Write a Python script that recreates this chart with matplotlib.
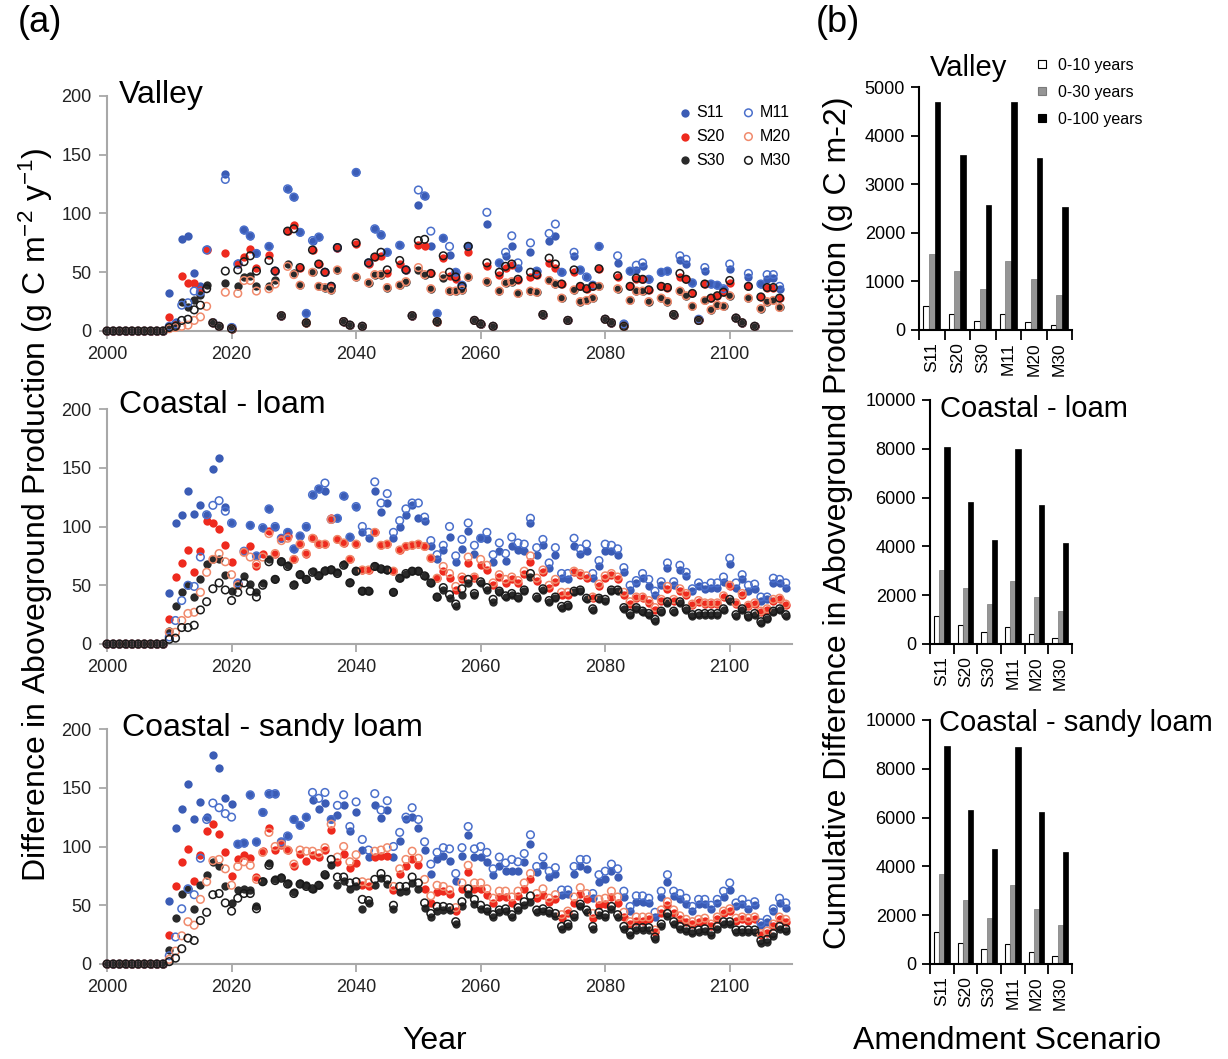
import numpy as np
import matplotlib
matplotlib.use("Agg")
import matplotlib.pyplot as plt
from matplotlib.lines import Line2D

plt.rcParams['font.family'] = ['Liberation Sans', 'DejaVu Sans']
plt.rcParams['mathtext.default'] = 'regular'

# ---------------- data: panel (a) ----------------
years_valley = list(range(2000, 2109))
years_coastal = list(range(2000, 2110))
pre_zero = [0, 0, 0, 0, 0, 0, 0, 0, 0, 0]   # 2000-2009

valley_S11 = pre_zero + [
    32, 8, 78, 81, 49, 38, 70, 8, 4, 134,
    3, 58, 86, 81, 66, None, 72, 51, 13, 121,
    114, 84, 15, 77, 80, 50, 38, 71, 8, 5,
    135, 4, 58, 87, 82, 67, None, 73, 52, 13,
    107, 115, 72, 15, 79, 65, 50, 39, 72, 9,
    6, 91, 4, 58, 64, 72, 54, None, 67, 51,
    14, 77, 81, 50, 9, 64, 52, 46, 39, 72,
    10, 7, 58, 6, 51, 52, 55, 44, None, 50,
    51, 14, 60, 57, 41, 10, 51, 40, 39, 36,
    53, 11, 7, 46, 4, 40, 44, 45, 36]
valley_S20 = pre_zero + [
    12, 6, 47, 41, 41, 35, 69, 7, 4, 66,
    2, 57, 63, 70, 54, None, 65, 51, 13, 85,
    90, 54, 7, 69, 57, 50, 38, 71, 8, 5,
    74, 4, 57, 63, 64, 49, None, 57, 52, 13,
    73, 72, 49, 8, 62, 47, 44, 36, 67, 9,
    6, 55, 4, 48, 54, 56, 43, None, 46, 48,
    14, 58, 54, 40, 9, 50, 38, 36, 38, 53,
    10, 7, 46, 4, 38, 44, 44, 35, None, 38,
    37, 14, 46, 44, 32, 9, 40, 28, 30, 33,
    41, 11, 7, 38, 4, 29, 37, 37, 28]
valley_S30 = pre_zero + [
    3, 5, 25, 20, 26, 31, 39, 7, 4, 41,
    2, 38, 46, 47, 38, None, 38, 43, 13, 57,
    49, 39, 7, 50, 38, 37, 35, 52, 8, 5,
    46, 4, 41, 48, 48, 37, None, 39, 42, 13,
    52, 48, 36, 8, 45, 34, 34, 35, 46, 9,
    6, 42, 4, 34, 41, 42, 32, None, 34, 33,
    14, 43, 40, 28, 9, 35, 25, 26, 28, 38,
    10, 7, 36, 4, 26, 34, 34, 25, None, 28,
    25, 14, 34, 30, 21, 9, 26, 18, 22, 21,
    30, 11, 7, 28, 4, 19, 25, 26, 20]
valley_M11 = pre_zero + [
    4, 6, 22, 24, 34, 33, 69, 7, 4, 129,
    3, 57, 86, 81, 66, None, 72, 51, 13, 121,
    114, 84, 15, 77, 80, 50, 38, 71, 8, 5,
    135, 4, 58, 87, 82, 67, None, 73, 52, 13,
    120, 115, 85, 15, 79, 72, 50, 39, 72, 9,
    6, 101, 4, 58, 67, 81, 58, None, 75, 51,
    14, 83, 91, 50, 9, 67, 52, 46, 39, 72,
    10, 7, 64, 6, 51, 56, 58, 44, None, 50,
    51, 14, 64, 61, 41, 10, 54, 40, 39, 36,
    57, 11, 7, 49, 4, 40, 48, 48, 38]
valley_M20 = pre_zero + [
    2, 3, 4, 5, 9, 12, 21, 7, 4, 33,
    2, 32, 43, 43, 34, None, 36, 40, 13, 55,
    48, 39, 7, 50, 38, 37, 35, 52, 8, 5,
    46, 4, 41, 48, 48, 37, None, 39, 42, 13,
    54, 48, 36, 8, 47, 34, 34, 35, 46, 9,
    6, 42, 4, 34, 41, 42, 32, None, 34, 33,
    14, 43, 40, 28, 9, 35, 25, 26, 28, 38,
    10, 7, 36, 4, 26, 34, 34, 25, None, 28,
    25, 14, 34, 30, 21, 9, 26, 18, 22, 21,
    30, 11, 7, 28, 4, 19, 25, 26, 20]
valley_M30 = pre_zero + [
    3, 4, 9, 10, 18, 22, 36, 7, 4, 51,
    2, 52, 59, 64, 51, None, 60, 51, 13, 85,
    87, 54, 7, 69, 57, 50, 38, 71, 8, 5,
    75, 4, 58, 63, 67, 52, None, 60, 52, 13,
    77, 78, 49, 8, 64, 50, 46, 38, 72, 9,
    6, 58, 4, 50, 55, 57, 44, None, 50, 48,
    14, 62, 57, 40, 9, 52, 38, 36, 38, 53,
    10, 7, 47, 4, 38, 45, 44, 35, None, 38,
    37, 14, 49, 44, 32, 9, 40, 28, 30, 33,
    43, 11, 7, 38, 4, 29, 37, 37, 28]

loam_S11 = pre_zero + [
    43, 103, 110, 130, 111, 118, 110, 149, 158, 117,
    103, 52, 79, 101, 75, 99, 115, 100, 90, 95,
    81, 92, 100, 127, 132, 130, 106, 107, 126, 91,
    117, 95, 90, 130, 112, 120, 90, 100, 110, 118,
    107, 105, 83, 72, 80, 91, 70, 81, 96, 77,
    90, 89, 70, 79, 71, 83, 80, 79, 103, 76,
    84, 65, 76, 56, 55, 83, 77, 79, 56, 66,
    79, 79, 76, 61, 46, 52, 56, 49, 42, 50,
    65, 50, 63, 58, 45, 49, 47, 48, 48, 53,
    68, 48, 55, 45, 47, 37, 38, 52, 52, 48]
loam_S20 = pre_zero + [
    21, 57, 69, 80, 61, 79, 105, 103, 98, 84,
    70, 51, 79, 83, 66, 77, 96, 77, 90, 92,
    72, 85, 77, 90, 85, 85, 107, 89, 86, 72,
    85, 63, 63, 95, 84, 85, 62, 80, 83, 84,
    85, 83, 73, 56, 62, 56, 46, 55, 69, 56,
    67, 63, 50, 57, 52, 55, 52, 60, 70, 54,
    61, 48, 53, 42, 42, 61, 59, 56, 39, 49,
    56, 59, 55, 42, 34, 39, 39, 35, 29, 37,
    47, 37, 45, 42, 33, 36, 34, 34, 34, 40,
    49, 34, 42, 32, 34, 27, 29, 37, 38, 33]
loam_S30 = pre_zero + [
    11, 32, 44, 50, 40, 55, 68, 72, 72, 59,
    45, 50, 58, 51, 44, 52, 72, 55, 71, 67,
    51, 60, 55, 62, 59, 63, 64, 61, 68, 53,
    62, 45, 45, 66, 64, 63, 44, 56, 60, 62,
    62, 58, 52, 40, 46, 39, 32, 42, 52, 42,
    52, 46, 36, 44, 40, 42, 39, 45, 57, 39,
    46, 36, 39, 31, 32, 44, 45, 38, 29, 38,
    37, 45, 45, 30, 25, 30, 27, 25, 20, 27,
    35, 27, 35, 29, 24, 25, 25, 25, 25, 29,
    37, 24, 29, 23, 25, 18, 21, 27, 29, 24]
loam_M11 = pre_zero + [
    6, 20, 37, 50, 49, 74, 110, 118, 122, 113,
    103, 52, 79, 101, 75, 99, 115, 100, 90, 95,
    81, 92, 100, 127, 132, 137, 106, 107, 126, 91,
    117, 100, 95, 138, 120, 128, 95, 105, 115, 120,
    120, 108, 88, 76, 84, 100, 75, 89, 103, 84,
    90, 95, 76, 86, 77, 91, 86, 85, 107, 82,
    89, 69, 82, 60, 60, 90, 81, 85, 60, 71,
    85, 84, 81, 65, 50, 54, 60, 55, 45, 53,
    69, 53, 67, 61, 47, 52, 49, 52, 52, 57,
    73, 52, 59, 50, 51, 40, 40, 56, 55, 52]
loam_M20 = pre_zero + [
    10, 10, 20, 26, 27, 44, 61, 72, 77, 70,
    59, 50, 78, 74, 68, 74, 94, 77, 88, 90,
    72, 85, 77, 90, 85, 85, 106, 89, 86, 72,
    85, 63, 63, 95, 84, 85, 62, 80, 83, 84,
    85, 83, 73, 56, 66, 60, 49, 57, 74, 57,
    72, 67, 52, 59, 55, 57, 54, 62, 75, 56,
    63, 50, 55, 44, 44, 62, 60, 58, 40, 51,
    58, 60, 57, 44, 36, 40, 40, 37, 31, 38,
    49, 38, 47, 43, 34, 37, 35, 35, 35, 41,
    50, 35, 43, 33, 35, 28, 30, 38, 39, 34]
loam_M30 = pre_zero + [
    4, 5, 14, 14, 16, 29, 36, 47, 52, 46,
    37, 44, 52, 45, 40, 50, 70, 55, 70, 66,
    50, 59, 55, 61, 58, 62, 63, 60, 67, 52,
    62, 45, 45, 66, 64, 63, 44, 56, 60, 62,
    62, 58, 52, 40, 48, 42, 34, 47, 55, 43,
    53, 48, 38, 45, 41, 43, 40, 46, 60, 40,
    47, 37, 40, 32, 33, 45, 46, 39, 30, 39,
    38, 46, 46, 31, 26, 31, 28, 26, 21, 28,
    36, 28, 36, 30, 25, 26, 26, 26, 26, 30,
    38, 25, 30, 24, 26, 19, 22, 28, 30, 25]

sandy_S11 = pre_zero + [
    54, 116, 132, 153, 123, 138, 125, 178, 167, 141,
    136, 102, 103, 144, 104, 129, 145, 145, 104, 109,
    123, 118, 125, 140, 132, 137, 123, 127, 135, 113,
    129, 97, 91, 135, 124, 131, 91, 105, 123, 125,
    116, 97, 77, 89, 92, 88, 71, 92, 110, 91,
    91, 87, 76, 83, 79, 79, 79, 87, 102, 78,
    84, 74, 77, 59, 60, 77, 83, 81, 56, 70,
    72, 79, 74, 57, 45, 53, 53, 52, 40, 57,
    70, 58, 55, 51, 45, 51, 51, 47, 52, 57,
    63, 49, 51, 47, 50, 33, 36, 45, 52, 48]
sandy_S20 = pre_zero + [
    25, 66, 87, 98, 71, 93, 113, 119, 111, 95,
    75, 89, 93, 90, 74, 96, 116, 97, 101, 97,
    83, 94, 88, 93, 91, 97, 114, 87, 94, 82,
    86, 67, 66, 91, 92, 92, 63, 77, 83, 89,
    84, 64, 52, 61, 62, 60, 45, 64, 78, 64,
    64, 59, 52, 57, 57, 52, 58, 64, 72, 56,
    59, 53, 55, 39, 43, 52, 60, 55, 39, 50,
    51, 57, 52, 40, 34, 37, 37, 38, 27, 43,
    50, 43, 38, 36, 34, 36, 37, 32, 38, 43,
    45, 37, 38, 37, 38, 25, 26, 32, 38, 36]
sandy_S30 = pre_zero + [
    12, 39, 60, 64, 47, 67, 76, 87, 83, 66,
    52, 63, 64, 63, 49, 71, 86, 72, 74, 69,
    61, 69, 67, 64, 67, 76, 84, 67, 71, 64,
    66, 47, 52, 67, 73, 68, 47, 61, 62, 69,
    64, 48, 40, 45, 46, 46, 34, 49, 60, 51,
    47, 45, 40, 44, 45, 40, 46, 50, 53, 44,
    45, 43, 41, 30, 32, 40, 49, 44, 30, 42,
    40, 47, 40, 30, 25, 29, 29, 29, 21, 32,
    41, 34, 30, 28, 26, 27, 28, 25, 30, 34,
    34, 27, 27, 27, 27, 18, 19, 24, 30, 28]
sandy_M11 = pre_zero + [
    7, 23, 47, 64, 59, 90, 123, 137, 133, 128,
    125, 102, 103, 144, 104, 129, 145, 145, 104, 109,
    123, 118, 125, 146, 141, 146, 123, 135, 144, 117,
    138, 106, 97, 145, 131, 139, 100, 112, 125, 133,
    123, 104, 85, 95, 99, 98, 77, 99, 117, 98,
    100, 95, 81, 91, 86, 89, 87, 94, 110, 83,
    91, 79, 82, 63, 63, 83, 89, 89, 60, 76,
    79, 85, 81, 62, 49, 58, 58, 56, 44, 62,
    76, 62, 60, 56, 49, 55, 55, 50, 55, 62,
    69, 52, 55, 51, 53, 35, 38, 47, 56, 52]
sandy_M20 = pre_zero + [
    4, 11, 24, 36, 33, 55, 70, 88, 89, 81,
    67, 83, 87, 84, 72, 95, 112, 100, 102, 97,
    85, 97, 96, 96, 94, 99, 119, 91, 100, 87,
    93, 70, 69, 96, 97, 99, 66, 81, 89, 96,
    90, 72, 58, 67, 66, 63, 48, 69, 84, 69,
    69, 64, 56, 62, 62, 57, 62, 69, 77, 60,
    64, 56, 59, 42, 45, 57, 65, 60, 43, 55,
    56, 62, 57, 44, 36, 40, 40, 40, 29, 46,
    53, 46, 41, 38, 36, 38, 39, 34, 40, 45,
    47, 39, 40, 39, 40, 26, 28, 34, 40, 38]
sandy_M30 = pre_zero + [
    2, 5, 13, 22, 20, 37, 44, 59, 60, 52,
    45, 56, 60, 60, 47, 70, 84, 71, 73, 68,
    60, 68, 66, 64, 67, 76, 89, 74, 74, 69,
    70, 55, 54, 72, 77, 72, 50, 66, 66, 74,
    69, 52, 43, 49, 49, 48, 36, 53, 64, 55,
    50, 47, 42, 46, 47, 42, 48, 53, 58, 46,
    47, 45, 43, 32, 34, 42, 51, 46, 32, 44,
    42, 49, 42, 32, 27, 31, 31, 31, 23, 34,
    43, 36, 32, 30, 28, 29, 30, 27, 32, 36,
    36, 29, 29, 29, 29, 20, 21, 26, 32, 30]

# ---------------- data: panel (b) ----------------
scenarios = ['S11', 'S20', 'S30', 'M11', 'M20', 'M30']
periods = ['0-10 years', '0-30 years', '0-100 years']
valley_cum_10 = [490, 320, 190, 330, 160, 100]
valley_cum_30 = [1570, 1220, 840, 1410, 1040, 710]
valley_cum_100 = [4700, 3600, 2580, 4690, 3530, 2530]
loam_cum_10 = [1150, 760, 510, 700, 420, 260]
loam_cum_30 = [3050, 2300, 1630, 2600, 1940, 1370]
loam_cum_100 = [8080, 5830, 4250, 7990, 5700, 4150]
sandy_cum_10 = [1330, 880, 600, 810, 500, 310]
sandy_cum_30 = [3700, 2640, 1890, 3220, 2260, 1600]
sandy_cum_100 = [8950, 6320, 4700, 8880, 6220, 4580]

# ---------------- figure ----------------
W, H = 1228, 1059
fig = plt.figure(figsize=(W / 100, H / 100), dpi=100)


def rect(l, t, r, b):
    return [l / W, 1 - b / H, (r - l) / W, (b - t) / H]


def arr(lst):
    return np.array([np.nan if v is None else v for v in lst], dtype=float)


BLUE = '#3b5cb5'
RED = '#ee2a1e'
DARK = '#2a2a2a'
styles = [
    ('S11', dict(facecolors=BLUE, edgecolors=BLUE)),
    ('S20', dict(facecolors=RED, edgecolors=RED)),
    ('S30', dict(facecolors=DARK, edgecolors=DARK)),
    ('M11', dict(facecolors='none', edgecolors='#4a6fcb')),
    ('M20', dict(facecolors='none', edgecolors='#f08a6c')),
    ('M30', dict(facecolors='none', edgecolors='#1a1a1a')),
]

panels = [
    ('Valley', years_valley, [valley_S11, valley_S20, valley_S30, valley_M11, valley_M20, valley_M30],
     rect(107, 96, 792, 331), 103),
    ('Coastal - loam', years_coastal, [loam_S11, loam_S20, loam_S30, loam_M11, loam_M20, loam_M30],
     rect(107, 409, 792, 644), 413),
    ('Coastal - sandy loam', years_coastal, [sandy_S11, sandy_S20, sandy_S30, sandy_M11, sandy_M20, sandy_M30],
     rect(107, 729, 792, 964), 736),
]

AXGREY = '#a8a8a8'
for i, (title, yrs, series, pos, title_base) in enumerate(panels):
    ax = fig.add_axes(pos)
    for (name, st), vals in zip(styles, series):
        filled = st['facecolors'] != 'none'
        ax.scatter(yrs, arr(vals), s=36 if filled else 30, linewidths=0 if filled else 1.1,
                   clip_on=False, zorder=3, label=name, **st)
    ax.set_xlim(2000, 2110)
    ax.set_ylim(0, 200)
    ax.set_xticks([2000, 2020, 2040, 2060, 2080, 2100])
    ax.set_yticks([0, 50, 100, 150, 200])
    for s in ['top', 'right']:
        ax.spines[s].set_visible(False)
    for s in ['left', 'bottom']:
        ax.spines[s].set_color(AXGREY)
        ax.spines[s].set_linewidth(1.5)
    ax.tick_params(direction='out', length=6, width=1.3, color=AXGREY, labelsize=13,
                   labelcolor='#222222', pad=5)
    fig.text((119 if i < 2 else 122) / W, 1 - title_base / H, title, fontsize=23,
             va='baseline', ha='left')
    if i == 0:
        ax.legend(loc='upper left', bbox_to_anchor=(680 / W, 1 - 105 / H),
                  bbox_transform=fig.transFigure, ncol=2, frameon=False, fontsize=11.5,
                  handlelength=0.6, handletextpad=0.4, columnspacing=1.2,
                  labelspacing=0.55, borderpad=0, borderaxespad=0, scatterpoints=1)

# ---------------- panel (b) bars ----------------
bar_panels = [
    ('Valley', [valley_cum_10, valley_cum_30, valley_cum_100], 5000, 1000,
     rect(919, 87, 1072, 330), (930, 76)),
    ('Coastal - loam', [loam_cum_10, loam_cum_30, loam_cum_100], 10000, 2000,
     rect(930, 400, 1072, 644), (940, 417)),
    ('Coastal - sandy loam', [sandy_cum_10, sandy_cum_30, sandy_cum_100], 10000, 2000,
     rect(930, 720, 1072, 964), (939, 731)),
]
bar_styles = [dict(color='white', edgecolor='black', linewidth=0.8),
              dict(color='#959595', edgecolor='#7a7a7a', linewidth=0.5),
              dict(color='black', edgecolor='black', linewidth=0.5)]
bw = 0.225
for j, (title, groups, ymax, ystep, pos, tpos) in enumerate(bar_panels):
    ax = fig.add_axes(pos)
    x = np.arange(len(scenarios))
    for k, (vals, st) in enumerate(zip(groups, bar_styles)):
        ax.bar(x + (k - 1) * bw, vals, width=bw, label=periods[k], **st)
    ax.set_xlim(-0.5, len(scenarios) - 0.5)
    ax.set_ylim(0, ymax)
    ax.set_yticks(np.arange(0, ymax + 1, ystep))
    ax.set_xticks(np.arange(-0.5, len(scenarios), 1.0))
    ax.set_xticklabels([])
    ax.set_xticks(x, minor=True)
    ax.set_xticklabels(scenarios, minor=True, rotation=90)
    ax.tick_params(axis='x', which='major', direction='out', length=7, width=1.3, color='black')
    ax.tick_params(axis='x', which='minor', length=0, pad=9, labelsize=12.5)
    ax.tick_params(axis='y', direction='out', length=6, width=1.3, labelsize=13, pad=4)
    for s in ['top', 'right']:
        ax.spines[s].set_visible(False)
    for s in ['left', 'bottom']:
        ax.spines[s].set_linewidth(1.5)
    fig.text(tpos[0] / W, 1 - tpos[1] / H, title, fontsize=21, va='baseline', ha='left')
    if j == 0:
        lh = [Line2D([], [], ls='', marker='s', markersize=5.5, markerfacecolor=st['color'],
                     markeredgecolor='black' if k != 1 else '#7a7a7a', markeredgewidth=0.8)
              for k, st in enumerate(bar_styles)]
        fig.legend(lh, periods, loc='upper left', bbox_to_anchor=(1036 / W, 1 - 58 / H),
                   bbox_transform=fig.transFigure, frameon=False, fontsize=11.5,
                   handlelength=0.7, handletextpad=0.7, labelspacing=0.75,
                   borderpad=0, borderaxespad=0)

# ---------------- labels ----------------
fig.text(40 / W, 1 - 22 / H, '(a)', fontsize=26, ha='center', va='center')
fig.text(838 / W, 1 - 22 / H, '(b)', fontsize=26, ha='center', va='center')
fig.text(36 / W, 1 - 515 / H, 'Difference in Aboveground Production (g C m$^{-2}$ y$^{-1}$)',
         fontsize=23, rotation=90, ha='center', va='center')
fig.text(838 / W, 1 - 523 / H, 'Cumulative Difference in Aboveground Production (g C m-2)',
         fontsize=23, rotation=90, ha='center', va='center')
fig.text(435 / W, 1 - 1041 / H, 'Year', fontsize=23, ha='center', va='center')
fig.text(1007 / W, 1 - 1041 / H, 'Amendment Scenario', fontsize=23, ha='center', va='center')

fig.savefig('out.png', dpi=100)
